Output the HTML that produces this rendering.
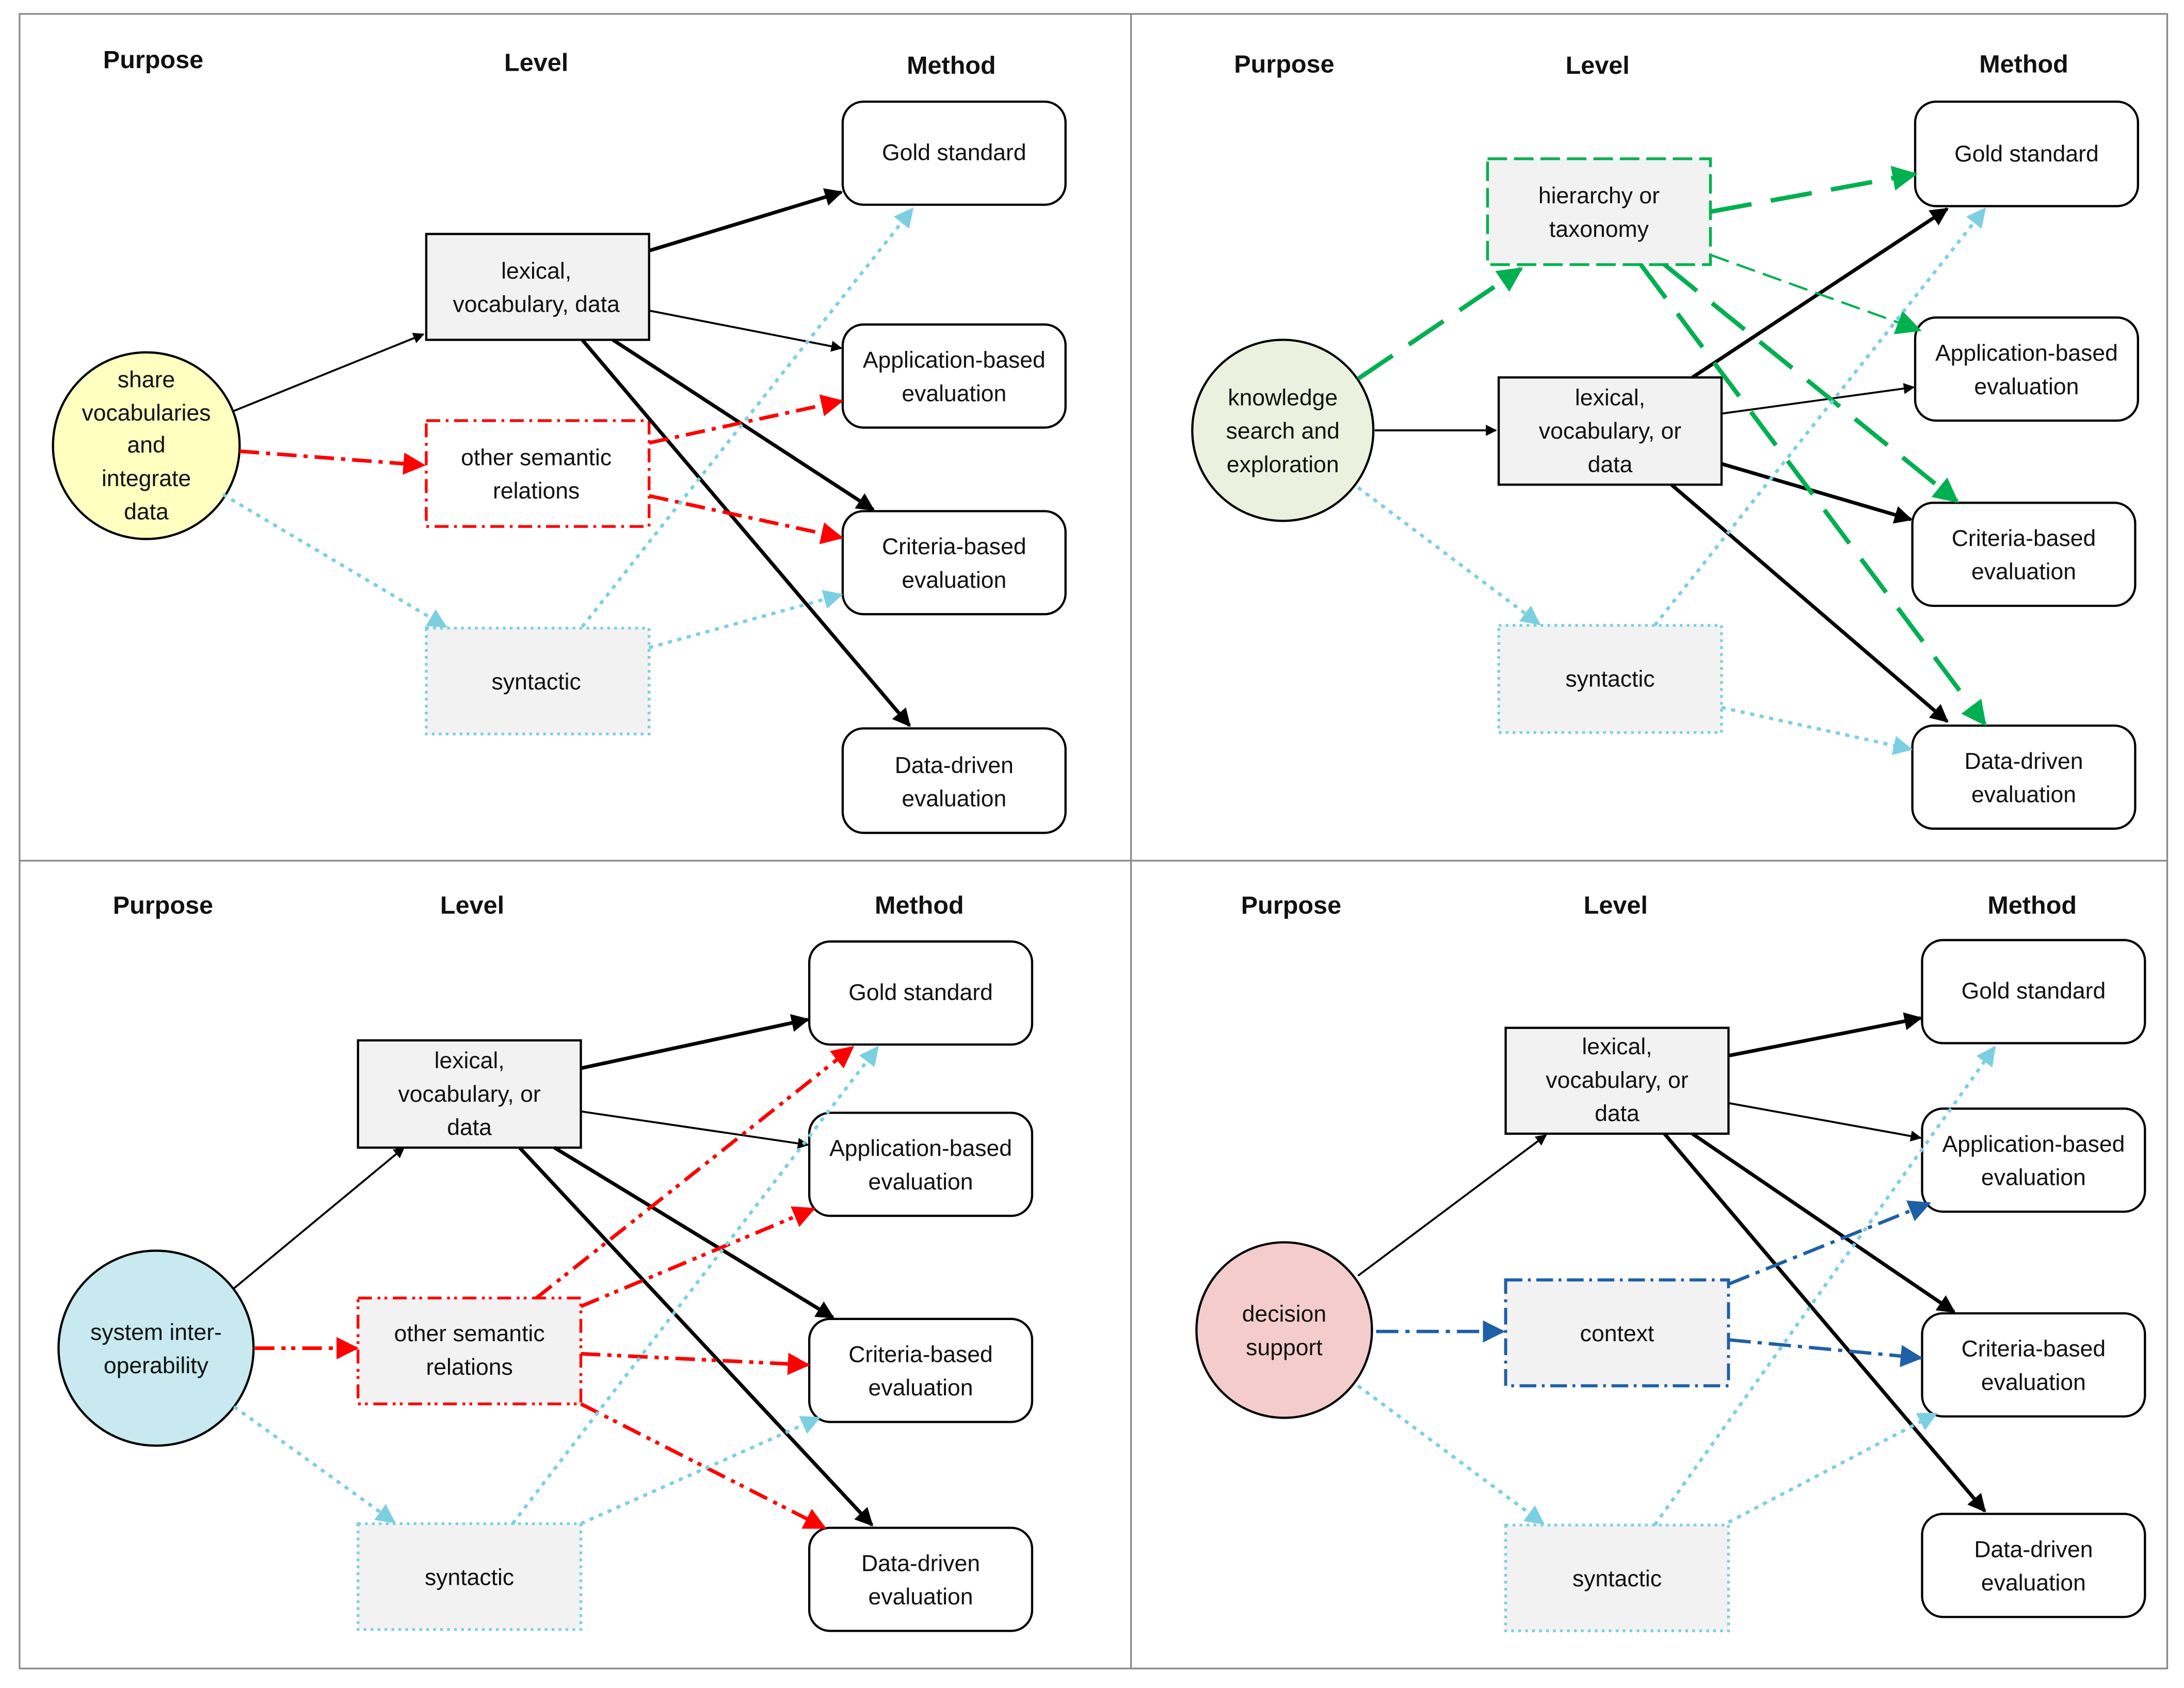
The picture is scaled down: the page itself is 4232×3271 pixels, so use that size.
<!DOCTYPE html>
<html><head><meta charset="utf-8"><style>
html,body{margin:0;padding:0;background:#fff}
svg{display:block}
text{font-family:"Liberation Sans",sans-serif;font-size:16.5px;fill:#111;text-anchor:middle}
.h{font-weight:bold;font-size:18px}
.m{fill:#fff;stroke:#000;stroke-width:1.6}
.lx{fill:#f2f2f2;stroke:#000;stroke-width:1.6}
.sy{fill:#f2f2f2;stroke:#7ccfe0;stroke-width:2;stroke-dasharray:2 3}
.k{stroke:#000;fill:none;stroke-width:1.4;marker-end:url(#ak)}
.kt{stroke:#000;fill:none;stroke-width:2.6;marker-end:url(#ak2)}
.b{stroke:#7ccfe0;fill:none;stroke-width:2.4;stroke-dasharray:3 4;marker-end:url(#ab)}
.r{stroke:#f00;fill:none;stroke-width:2.6;stroke-dasharray:14 5 3 5;marker-end:url(#ar)}
.r2{stroke:#f00;fill:none;stroke-width:2.6;stroke-dasharray:14 5 3 4 3 5;marker-end:url(#ar)}
.g{stroke:#00b050;fill:none;stroke-width:3.2;stroke-dasharray:30 14;marker-end:url(#ag)}
.gt{stroke:#00b050;fill:none;stroke-width:1.6;stroke-dasharray:14 6;marker-end:url(#ag)}
.d{stroke:#1f5fa6;fill:none;stroke-width:2.4;stroke-dasharray:16 5 3 5;marker-end:url(#ad)}
</style></head><body>
<svg width="4232" height="3271" viewBox="0 0 1568 1212" xmlns="http://www.w3.org/2000/svg">
<defs>
<marker id="ak" viewBox="0 0 10 10" refX="9" refY="5" markerWidth="8" markerHeight="8" markerUnits="userSpaceOnUse" orient="auto"><path d="M0,0L10,5L0,10z" fill="#000"/></marker>
<marker id="ak2" viewBox="0 0 10 10" refX="9" refY="5" markerWidth="13" markerHeight="13" markerUnits="userSpaceOnUse" orient="auto"><path d="M0,0L10,5L0,10z" fill="#000"/></marker>
<marker id="ab" viewBox="0 0 10 10" refX="9" refY="5" markerWidth="14" markerHeight="14" markerUnits="userSpaceOnUse" orient="auto"><path d="M0,0L10,5L0,10z" fill="#7ccfe0"/></marker>
<marker id="ar" viewBox="0 0 10 10" refX="9" refY="5" markerWidth="16" markerHeight="16" markerUnits="userSpaceOnUse" orient="auto"><path d="M0,0L10,5L0,10z" fill="#f00"/></marker>
<marker id="ag" viewBox="0 0 10 10" refX="9" refY="5" markerWidth="18" markerHeight="18" markerUnits="userSpaceOnUse" orient="auto"><path d="M0,0L10,5L0,10z" fill="#00b050"/></marker>
<marker id="ad" viewBox="0 0 10 10" refX="9" refY="5" markerWidth="16" markerHeight="16" markerUnits="userSpaceOnUse" orient="auto"><path d="M0,0L10,5L0,10z" fill="#1f5fa6"/></marker>
</defs>
<rect x="14" y="10" width="1542" height="1188" fill="none" stroke="#888" stroke-width="1.2"/>
<line x1="812" y1="10" x2="812" y2="1198" stroke="#888" stroke-width="1.2"/>
<line x1="14" y1="618" x2="1556" y2="618" stroke="#888" stroke-width="1.2"/>

<!-- Panel 1 -->
<text class="h" x="110" y="49">Purpose</text><text class="h" x="385" y="51">Level</text><text class="h" x="683" y="53">Method</text>
<circle cx="105" cy="320" r="67" fill="#ffffc0" stroke="#000" stroke-width="1.6"/>
<text x="105" y="278">share</text><text x="105" y="302">vocabularies</text><text x="105" y="325">and</text><text x="105" y="349">integrate</text><text x="105" y="373">data</text>
<rect class="lx" x="306" y="168" width="160" height="76"/><text x="385" y="200">lexical,</text><text x="385" y="224">vocabulary, data</text>
<rect x="306" y="302" width="160" height="76" fill="#fff" stroke="#f00" stroke-width="2" stroke-dasharray="10 4 2 4"/><text x="385" y="334">other semantic</text><text x="385" y="358">relations</text>
<rect class="sy" x="306" y="451" width="160" height="76"/><text x="385" y="495">syntactic</text>
<rect class="m" x="605" y="73" width="160" height="74" rx="15"/><text x="685" y="115">Gold standard</text>
<rect class="m" x="605" y="233" width="160" height="74" rx="15"/><text x="685" y="264">Application-based</text><text x="685" y="288">evaluation</text>
<rect class="m" x="605" y="367" width="160" height="74" rx="15"/><text x="685" y="398">Criteria-based</text><text x="685" y="422">evaluation</text>
<rect class="m" x="605" y="523" width="160" height="75" rx="15"/><text x="685" y="555">Data-driven</text><text x="685" y="579">evaluation</text>
<path class="k" d="M168,295L304,240"/><path class="r" d="M172,324L304,334"/><path class="b" d="M160,355L320,450"/>
<path class="kt" d="M466,180L604,138"/><path class="k" d="M466,223L604,250"/><path class="kt" d="M440,244L627,366"/><path class="kt" d="M418,244L653,521"/>
<path class="r" d="M466,318L604,288"/><path class="r" d="M466,356L604,386"/>
<path class="b" d="M418,450L655,150"/><path class="b" d="M466,465L604,427"/>

<!-- Panel 2 -->
<text class="h" x="922" y="52">Purpose</text><text class="h" x="1147" y="53">Level</text><text class="h" x="1453" y="52">Method</text>
<circle cx="921" cy="309" r="65" fill="#ebf1de" stroke="#000" stroke-width="1.6"/>
<text x="921" y="291">knowledge</text><text x="921" y="315">search and</text><text x="921" y="339">exploration</text>
<rect x="1068" y="114" width="160" height="76" fill="#f2f2f2" stroke="#00b050" stroke-width="2" stroke-dasharray="14 5"/><text x="1148" y="146">hierarchy or</text><text x="1148" y="170">taxonomy</text>
<rect class="lx" x="1076" y="271" width="160" height="77"/><text x="1156" y="291">lexical,</text><text x="1156" y="315">vocabulary, or</text><text x="1156" y="339">data</text>
<rect class="sy" x="1076" y="449" width="160" height="77"/><text x="1156" y="493">syntactic</text>
<rect class="m" x="1375" y="73" width="160" height="75" rx="15"/><text x="1455" y="116">Gold standard</text>
<rect class="m" x="1375" y="228" width="160" height="74" rx="15"/><text x="1455" y="259">Application-based</text><text x="1455" y="283">evaluation</text>
<rect class="m" x="1373" y="361" width="160" height="74" rx="15"/><text x="1453" y="392">Criteria-based</text><text x="1453" y="416">evaluation</text>
<rect class="m" x="1373" y="521" width="160" height="74" rx="15"/><text x="1453" y="552">Data-driven</text><text x="1453" y="576">evaluation</text>
<path class="g" d="M975,272L1092,193"/><path class="k" d="M987,309L1074,309"/><path class="b" d="M975,350L1105,448"/>
<path class="kt" d="M1215,271L1398,150"/><path class="k" d="M1236,297L1374,278"/><path class="kt" d="M1236,333L1372,373"/><path class="kt" d="M1200,348L1398,518"/>
<path class="g" d="M1228,152L1375,125"/><path class="gt" d="M1228,183L1378,237"/><path class="g" d="M1195,190L1405,360"/><path class="g" d="M1178,190L1425,520"/>
<path class="b" d="M1188,449L1425,150"/><path class="b" d="M1236,508L1372,538"/>

<!-- Panel 3 -->
<text class="h" x="117" y="656">Purpose</text><text class="h" x="339" y="656">Level</text><text class="h" x="660" y="656">Method</text>
<circle cx="112" cy="968" r="70" fill="#c7e9ef" stroke="#000" stroke-width="1.6"/>
<text x="112" y="962">system inter-</text><text x="112" y="986">operability</text>
<rect class="lx" x="257" y="747" width="160" height="77"/><text x="337" y="767">lexical,</text><text x="337" y="791">vocabulary, or</text><text x="337" y="815">data</text>
<rect x="257" y="932" width="160" height="76" fill="#f2f2f2" stroke="#f00" stroke-width="2" stroke-dasharray="10 4 2 3 2 4"/><text x="337" y="963">other semantic</text><text x="337" y="987">relations</text>
<rect class="sy" x="257" y="1094" width="160" height="76"/><text x="337" y="1138">syntactic</text>
<rect class="m" x="581" y="676" width="160" height="74" rx="15"/><text x="661" y="718">Gold standard</text>
<rect class="m" x="581" y="799" width="160" height="74" rx="15"/><text x="661" y="830">Application-based</text><text x="661" y="854">evaluation</text>
<rect class="m" x="581" y="947" width="160" height="74" rx="15"/><text x="661" y="978">Criteria-based</text><text x="661" y="1002">evaluation</text>
<rect class="m" x="581" y="1097" width="160" height="74" rx="15"/><text x="661" y="1128">Data-driven</text><text x="661" y="1152">evaluation</text>
<path class="k" d="M168,925L290,824"/><path class="r2" d="M183,968L256,968"/><path class="b" d="M168,1010L283,1093"/>
<path class="kt" d="M417,767L580,732"/><path class="k" d="M417,798L580,822"/><path class="kt" d="M398,824L598,946"/><path class="kt" d="M373,824L626,1095"/>
<path class="r2" d="M385,932L612,752"/><path class="r2" d="M417,938L584,868"/><path class="r2" d="M417,972L580,980"/><path class="r2" d="M417,1008L592,1097"/>
<path class="b" d="M368,1094L630,752"/><path class="b" d="M417,1094L588,1018"/>

<!-- Panel 4 -->
<text class="h" x="927" y="656">Purpose</text><text class="h" x="1160" y="656">Level</text><text class="h" x="1459" y="656">Method</text>
<circle cx="922" cy="955" r="63" fill="#f4cccc" stroke="#000" stroke-width="1.6"/>
<text x="922" y="949">decision</text><text x="922" y="973">support</text>
<rect class="lx" x="1081" y="738" width="160" height="76"/><text x="1161" y="757">lexical,</text><text x="1161" y="781">vocabulary, or</text><text x="1161" y="805">data</text>
<rect x="1081" y="919" width="160" height="76" fill="#f2f2f2" stroke="#1f5fa6" stroke-width="2.2" stroke-dasharray="12 4 2 4"/><text x="1161" y="963">context</text>
<rect class="sy" x="1081" y="1095" width="160" height="76"/><text x="1161" y="1139">syntactic</text>
<rect class="m" x="1380" y="675" width="160" height="74" rx="15"/><text x="1460" y="717">Gold standard</text>
<rect class="m" x="1380" y="796" width="160" height="74" rx="15"/><text x="1460" y="827">Application-based</text><text x="1460" y="851">evaluation</text>
<rect class="m" x="1380" y="943" width="160" height="74" rx="15"/><text x="1460" y="974">Criteria-based</text><text x="1460" y="998">evaluation</text>
<rect class="m" x="1380" y="1087" width="160" height="74" rx="15"/><text x="1460" y="1118">Data-driven</text><text x="1460" y="1142">evaluation</text>
<path class="k" d="M975,916L1110,815"/><path class="d" d="M988,956L1079,956"/><path class="b" d="M975,995L1108,1094"/>
<path class="kt" d="M1241,758L1379,731"/><path class="k" d="M1241,792L1379,817"/><path class="kt" d="M1215,814L1403,942"/><path class="kt" d="M1195,814L1425,1085"/>
<path class="d" d="M1241,922L1385,864"/><path class="d" d="M1241,962L1379,975"/>
<path class="b" d="M1188,1095L1432,752"/><path class="b" d="M1241,1093L1390,1015"/>
</svg>
</body></html>
